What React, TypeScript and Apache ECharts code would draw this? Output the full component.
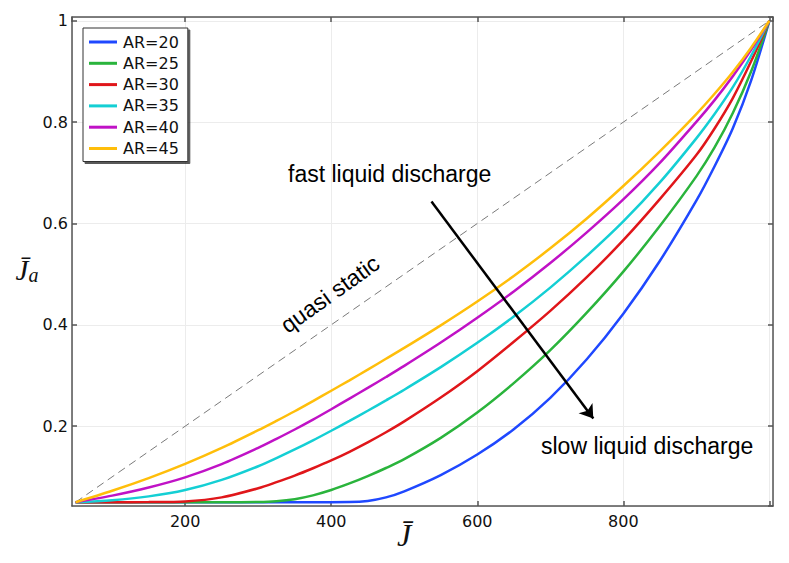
import React, { useEffect, useRef } from 'react';
import * as echarts from 'echarts';

// ---- data ----
const xValues = [50, 100, 150, 200, 250, 300, 325, 350, 375, 400, 425, 450, 475, 500, 550, 600, 650, 700, 750, 800, 850, 900, 925, 950, 975, 1000];

const seriesNames = ['AR=20', 'AR=25', 'AR=30', 'AR=35', 'AR=40', 'AR=45'];

const ar20 = [0.05, 0.05, 0.05, 0.05, 0.05, 0.05, 0.05, 0.05, 0.05, 0.05, 0.0502, 0.0525, 0.0595, 0.0715, 0.1035, 0.144, 0.194, 0.256, 0.332, 0.422, 0.526, 0.645, 0.713, 0.788, 0.882, 1];
const ar25 = [0.05, 0.05, 0.05, 0.05, 0.05, 0.0505, 0.052, 0.056, 0.0635, 0.074, 0.087, 0.1015, 0.1175, 0.135, 0.177, 0.227, 0.285, 0.35, 0.424, 0.505, 0.595, 0.693, 0.75, 0.818, 0.9, 1];
const ar30 = [0.05, 0.05, 0.0502, 0.0515, 0.0595, 0.0775, 0.0895, 0.1025, 0.117, 0.1325, 0.1495, 0.168, 0.188, 0.2095, 0.2565, 0.3085, 0.3665, 0.4275, 0.494, 0.567, 0.648, 0.735, 0.7875, 0.8475, 0.92, 1];
const ar35 = [0.05, 0.054, 0.0615, 0.074, 0.094, 0.121, 0.137, 0.154, 0.172, 0.191, 0.2105, 0.2305, 0.251, 0.272, 0.3165, 0.3645, 0.4165, 0.4735, 0.536, 0.604, 0.681, 0.768, 0.816, 0.869, 0.931, 1];
const ar40 = [0.05, 0.063, 0.079, 0.099, 0.125, 0.157, 0.175, 0.1935, 0.213, 0.2335, 0.2545, 0.2755, 0.297, 0.319, 0.365, 0.414, 0.466, 0.522, 0.5825, 0.6475, 0.7195, 0.8005, 0.8435, 0.8905, 0.9425, 1];
const ar45 = [0.05, 0.0725, 0.0975, 0.1255, 0.157, 0.192, 0.2105, 0.2295, 0.2495, 0.27, 0.2905, 0.3115, 0.333, 0.3545, 0.399, 0.446, 0.4965, 0.551, 0.61, 0.674, 0.7425, 0.816, 0.856, 0.899, 0.947, 1];

const quasiStaticX = [50, 1000];
const quasiStaticY = [0.05, 1];

const xTickLabels = [200, 400, 600, 800];
const yTickLabels = [0.2, 0.4, 0.6, 0.8, 1];

const arrowFrom = [537.3, 0.6432];
const arrowTo = [758.9, 0.2152];

const curveValues = [ar20, ar25, ar30, ar35, ar40, ar45];
const colors = ['#1f48ff', '#2ab43c', '#e0161a', '#14cfd4', '#c012c6', '#ffbe0a'];

const FRAME = '#555555';
const GRIDC = '#ececec';
const TXT = '#111111';
const tickFont = 'DejaVu Sans';
const annFont = 'Liberation Sans';
const mathFont = 'Liberation Serif';

export default function App() {
  const ref = useRef<HTMLDivElement>(null);

  useEffect(() => {
    if (!ref.current) return;
    const chart = echarts.init(ref.current, null, { renderer: 'svg' });

    const axisLine = { show: true, onZero: false, lineStyle: { color: FRAME, width: 1.5 } };
    const axisTick = { show: true, inside: true, length: 5, lineStyle: { color: FRAME, width: 1.5 } };

    const curveSeries = seriesNames.map((name, i) => ({
      name,
      type: 'line',
      data: xValues.map((x, j) => [x, curveValues[i][j]]),
      showSymbol: false,
      symbol: 'none',
      smooth: 0.3,
      lineStyle: { color: colors[i], width: 2.5 },
      itemStyle: { color: colors[i] },
      z: 3,
    }));

    const option: any = {
      animation: false,
      backgroundColor: '#ffffff',
      grid: { left: 72, right: 16, top: 17, bottom: 57, containLabel: false, outerBoundsMode: 'none' },
      xAxis: [
        {
          type: 'value',
          position: 'bottom',
          min: 45,
          max: 1005,
          splitNumber: 5,
          axisLine,
          axisTick,
          axisLabel: {
            show: true,
            margin: 7,
            color: TXT,
            fontSize: 16,
            fontFamily: tickFont,
            showMinLabel: false,
            showMaxLabel: false,
            formatter: (v: number) => {
              const t = xTickLabels.find((k) => Math.abs(k - v) < 1e-6);
              return t === undefined ? '' : String(t);
            },
          },
          splitLine: { show: true, lineStyle: { color: GRIDC, width: 1 } },
          name: 'J\u0304',
          nameLocation: 'middle',
          nameGap: 13,
          nameMoveOverlap: false,
          nameTextStyle: {
            fontFamily: mathFont,
            fontStyle: 'italic',
            fontSize: 32,
            color: TXT,
            align: 'center',
            verticalAlign: 'top',
            padding: [0, 37, 0, 0],
          },
        },
        {
          type: 'value',
          position: 'top',
          min: 45,
          max: 1005,
          splitNumber: 5,
          axisLine,
          axisTick,
          axisLabel: { show: false },
          splitLine: { show: false },
        },
      ],
      yAxis: [
        {
          type: 'value',
          position: 'left',
          min: 0.0425,
          max: 1.0075,
          splitNumber: 5,
          axisLine,
          axisTick,
          axisLabel: {
            show: true,
            margin: 4,
            color: TXT,
            fontSize: 16,
            fontFamily: tickFont,
            showMinLabel: false,
            showMaxLabel: false,
            formatter: (v: number) => {
              const t = yTickLabels.find((k) => Math.abs(k - v) < 1e-6);
              return t === undefined ? '' : String(t);
            },
          },
          splitLine: { show: true, lineStyle: { color: GRIDC, width: 1 } },
          name: '{j|J\u0304}{s|a}',
          nameLocation: 'middle',
          nameGap: 45,
          nameRotate: 0,
          nameMoveOverlap: false,
          nameTextStyle: {
            align: 'center',
            verticalAlign: 'middle',
            padding: [17, 0, 0, 0],
            rich: {
              j: { fontFamily: mathFont, fontStyle: 'italic', fontSize: 29, lineHeight: 30, color: TXT },
              s: { fontFamily: mathFont, fontStyle: 'italic', fontSize: 20, lineHeight: 14, verticalAlign: 'bottom', color: TXT },
            },
          },
        },
        {
          type: 'value',
          position: 'right',
          min: 0.0425,
          max: 1.0075,
          splitNumber: 5,
          axisLine,
          axisTick,
          axisLabel: { show: false },
          splitLine: { show: false },
        },
      ],
      legend: {
        data: seriesNames,
        orient: 'vertical',
        left: 83,
        top: 28,
        padding: [6, 9, 5, 6],
        itemGap: 5.3,
        itemWidth: 28,
        itemHeight: 3,
        icon: 'rect',
        backgroundColor: '#ffffff',
        borderColor: '#333333',
        borderWidth: 1,
        borderRadius: 0,
        shadowColor: 'rgba(0,0,0,0.65)',
        shadowBlur: 1,
        shadowOffsetX: 2,
        shadowOffsetY: 2,
        selectedMode: false,
        textStyle: { fontSize: 16, fontFamily: tickFont, color: TXT, padding: [0, 0, 0, 1] },
      },
      series: [
        {
          name: 'quasi static',
          type: 'line',
          data: quasiStaticX.map((x, i) => [x, quasiStaticY[i]]),
          showSymbol: false,
          symbol: 'none',
          lineStyle: { color: '#7a7a7a', width: 1, type: [8, 5] },
          z: 2,
          markLine: {
            silent: true,
            animation: false,
            symbol: ['none', 'arrow'],
            symbolSize: 13,
            label: { show: false },
            lineStyle: { color: '#000000', width: 2.5, type: 'solid' },
            data: [[{ coord: arrowFrom }, { coord: arrowTo }]],
          },
        },
        ...curveSeries,
      ],
      graphic: [
        {
          type: 'text',
          x: 288,
          y: 174,
          style: { text: 'fast liquid discharge', fill: '#000', font: `23px "${annFont}"`, textAlign: 'left', textVerticalAlign: 'middle' },
          z: 10,
        },
        {
          type: 'text',
          x: 541,
          y: 446,
          style: { text: 'slow liquid discharge', fill: '#000', font: `23px "${annFont}"`, textAlign: 'left', textVerticalAlign: 'middle' },
          z: 10,
        },
        {
          type: 'text',
          x: 330,
          y: 294,
          rotation: 0.62,
          style: { text: 'quasi static', fill: '#000', font: `23px "${annFont}"`, textAlign: 'center', textVerticalAlign: 'middle' },
          z: 10,
        },
      ],
    };

    chart.setOption(option);
    return () => chart.dispose();
  }, []);

  return (
    <div
      ref={ref}
      style={{ position: 'fixed', left: 0, top: 0, width: 789, height: 563, background: '#ffffff' }}
    />
  );
}
